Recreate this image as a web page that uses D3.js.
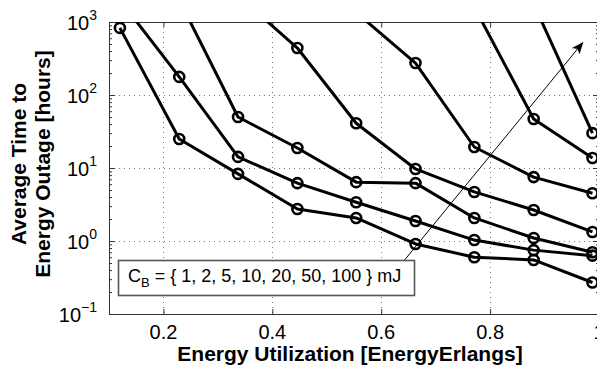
<!DOCTYPE html>
<html>
<head>
<meta charset="utf-8">
<script src="https://cdn.jsdelivr.net/npm/d3@7"></script>
<style>
  html, body { margin: 0; padding: 0; background: #fff; overflow: hidden; }
  svg { display: block; font-family: "Liberation Sans", Arial, Helvetica, sans-serif; }
</style>
</head>
<body>
<svg id="chart" width="597" height="369"></svg>
<script>
// Energy utilization (x) at which each curve is evaluated
const utilization = [0.12, 0.229, 0.337, 0.446, 0.554, 0.663, 0.771, 0.88, 0.988];

// Battery capacities C_B in mJ, one curve each
const capacities = [1, 2, 5, 10, 20, 50, 100];

// Average time to energy outage [hours] per capacity (null = not evaluated)
const outageCB1   = [830, 25, 8.3, 2.75, 2.07, 0.91, 0.60, 0.55, 0.27];
const outageCB2   = [2000, 177, 14.2, 6.2, 3.4, 1.88, 1.03, 0.75, 0.63];
const outageCB5   = [null, 2000, 50, 18.8, 6.4, 6.2, 2.07, 1.10, 0.70];
const outageCB10  = [null, null, 2300, 440, 41, 9.7, 4.7, 2.66, 1.33];
const outageCB20  = [null, null, null, null, 1350, 274, 19.4, 7.5, 4.5];
const outageCB50  = [null, null, null, null, null, null, 1600, 47, 13.7];
const outageCB100 = [null, null, null, null, null, null, null, 1770, 30];
const outageSeries = [outageCB1, outageCB2, outageCB5, outageCB10, outageCB20, outageCB50, outageCB100];

// Axis ticks
const xTicks = [0.2, 0.4, 0.6, 0.8, 1];
const xTickLabels = ["0.2", "0.4", "0.6", "0.8", "1"];
const yExponents = [-1, 0, 1, 2, 3];

// Annotation arrow (data coordinates) pointing toward increasing C_B
const arrowFrom = [0.643, 0.55];
const arrowTo = [0.97, 520];

const legendText = "= { 1, 2, 5, 10, 20, 50, 100 } mJ";

const svg = d3.select("#chart");
const margin = { left: 109, top: 22, right: 599, bottom: 314 };

const x = d3.scaleLinear().domain([0.1, 1.0]).range([margin.left, margin.right]);
const y = d3.scaleLog().domain([0.1, 1000]).range([margin.bottom, margin.top]);

const majorY = yExponents.map(e => Math.pow(10, e));
const minorY = [];
for (let e = -1; e < 3; e++) for (let k = 2; k <= 9; k++) minorY.push(k * Math.pow(10, e));

// Dotted grid
const grid = svg.append("g").attr("stroke", "#7a7a7a").attr("stroke-width", 1)
  .attr("stroke-dasharray", "1,4");
grid.selectAll("line.gx").data(xTicks.filter(v => v < 1)).join("line")
  .attr("x1", d => Math.round(x(d)) + 0.5).attr("x2", d => Math.round(x(d)) + 0.5)
  .attr("y1", margin.top).attr("y2", margin.bottom);
grid.selectAll("line.gy").data(majorY.filter(v => v > 0.1 && v < 1000)).join("line")
  .attr("y1", d => Math.round(y(d)) + 0.5).attr("y2", d => Math.round(y(d)) + 0.5)
  .attr("x1", margin.left).attr("x2", margin.right);

// Axes with inward ticks
function styleAxis(g) {
  g.select(".domain").attr("stroke", "#333");
  g.selectAll(".tick line").attr("stroke", "#333");
  g.selectAll(".tick text").remove();
}
svg.append("g").attr("transform", `translate(0,${margin.bottom})`)
  .call(d3.axisBottom(x).tickValues(xTicks).tickSizeInner(-5).tickSizeOuter(0)).call(styleAxis);
svg.append("g").attr("transform", `translate(0,${margin.top})`)
  .call(d3.axisTop(x).tickValues(xTicks).tickSizeInner(-5).tickSizeOuter(0)).call(styleAxis);
svg.append("g").attr("transform", `translate(${margin.left},0)`)
  .call(d3.axisLeft(y).tickValues(majorY).tickSizeInner(-6).tickSizeOuter(0)).call(styleAxis);
svg.append("g").attr("transform", `translate(${margin.left},0)`)
  .call(d3.axisLeft(y).tickValues(minorY).tickSizeInner(-3).tickSizeOuter(0)).call(styleAxis);
svg.append("g").attr("transform", `translate(${margin.right},0)`)
  .call(d3.axisRight(y).tickValues(majorY).tickSizeInner(-6).tickSizeOuter(0)).call(styleAxis);
svg.append("g").attr("transform", `translate(${margin.right},0)`)
  .call(d3.axisRight(y).tickValues(minorY).tickSizeInner(-3).tickSizeOuter(0)).call(styleAxis);

// X tick labels
svg.append("g").selectAll("text").data(xTicks).join("text")
  .attr("x", d => x(d)).attr("y", 339).attr("text-anchor", "middle")
  .attr("font-size", 20).attr("fill", "#000")
  .text((d, i) => xTickLabels[i]);

// Y tick labels: 10 with superscript exponent
const yl = svg.append("g").selectAll("text").data(yExponents).join("text")
  .attr("x", 97).attr("y", d => y(Math.pow(10, d)) + 8)
  .attr("text-anchor", "end").attr("fill", "#000").attr("font-size", 20);
yl.append("tspan").text("10");
yl.append("tspan").attr("font-size", 14).attr("dy", -10)
  .text(d => d < 0 ? "\u2212" + Math.abs(d) : String(d));

// Axis titles
svg.append("text").attr("x", 350).attr("y", 361).attr("text-anchor", "middle")
  .attr("font-size", 21).attr("font-weight", "bold")
  .text("Energy Utilization [EnergyErlangs]");
const yTitle = svg.append("text").attr("transform", "translate(0,164) rotate(-90)")
  .attr("text-anchor", "middle").attr("font-size", 21).attr("font-weight", "bold");
yTitle.append("tspan").attr("x", 0).attr("y", 26).text("Average Time to");
yTitle.append("tspan").attr("x", 0).attr("y", 50).text("Energy Outage [hours]");

// Curves, clipped to the plot area
svg.append("clipPath").attr("id", "plotClip").append("rect")
  .attr("x", margin.left).attr("y", margin.top)
  .attr("width", margin.right - margin.left).attr("height", margin.bottom - margin.top);

const plot = svg.append("g").attr("clip-path", "url(#plotClip)");
const line = d3.line()
  .defined(d => d.v !== null)
  .x(d => x(d.u)).y(d => y(d.v));

outageSeries.forEach((vals, i) => {
  const pts = vals.map((v, j) => ({ u: utilization[j], v }));
  const g = plot.append("g").attr("class", "cb" + capacities[i]);
  g.append("path").datum(pts).attr("d", line)
    .attr("fill", "none").attr("stroke", "#000").attr("stroke-width", 3)
    .attr("stroke-linejoin", "round");
  g.selectAll("circle").data(pts.filter(p => p.v !== null)).join("circle")
    .attr("cx", p => x(p.u)).attr("cy", p => y(p.v)).attr("r", 5)
    .attr("fill", "none").attr("stroke", "#000").attr("stroke-width", 2.6);
});

// Arrow annotation
const defs = svg.append("defs");
defs.append("marker").attr("id", "arrowHead").attr("viewBox", "0 0 12 10")
  .attr("refX", 11).attr("refY", 5).attr("markerWidth", 12).attr("markerHeight", 10)
  .attr("markerUnits", "userSpaceOnUse").attr("orient", "auto")
  .append("path").attr("d", "M0,0 L12,5 L0,10 L3,5 Z").attr("fill", "#000");
svg.append("line")
  .attr("x1", x(arrowFrom[0])).attr("y1", y(arrowFrom[1]))
  .attr("x2", x(arrowTo[0])).attr("y2", y(arrowTo[1]))
  .attr("stroke", "#000").attr("stroke-width", 1).attr("marker-end", "url(#arrowHead)");

// Capacity legend box
const box = svg.append("g");
box.append("rect").attr("x", 118.5).attr("y", 260.5).attr("width", 296).attr("height", 35)
  .attr("fill", "#fff").attr("stroke", "#555").attr("stroke-width", 1.6);
const lt = box.append("text").attr("x", 128).attr("y", 282).attr("font-size", 18).attr("fill", "#000");
lt.append("tspan").text("C");
lt.append("tspan").attr("font-size", 13).attr("dy", 5).text("B");
lt.append("tspan").attr("dy", -5).text(" " + legendText);
</script>
</body>
</html>
